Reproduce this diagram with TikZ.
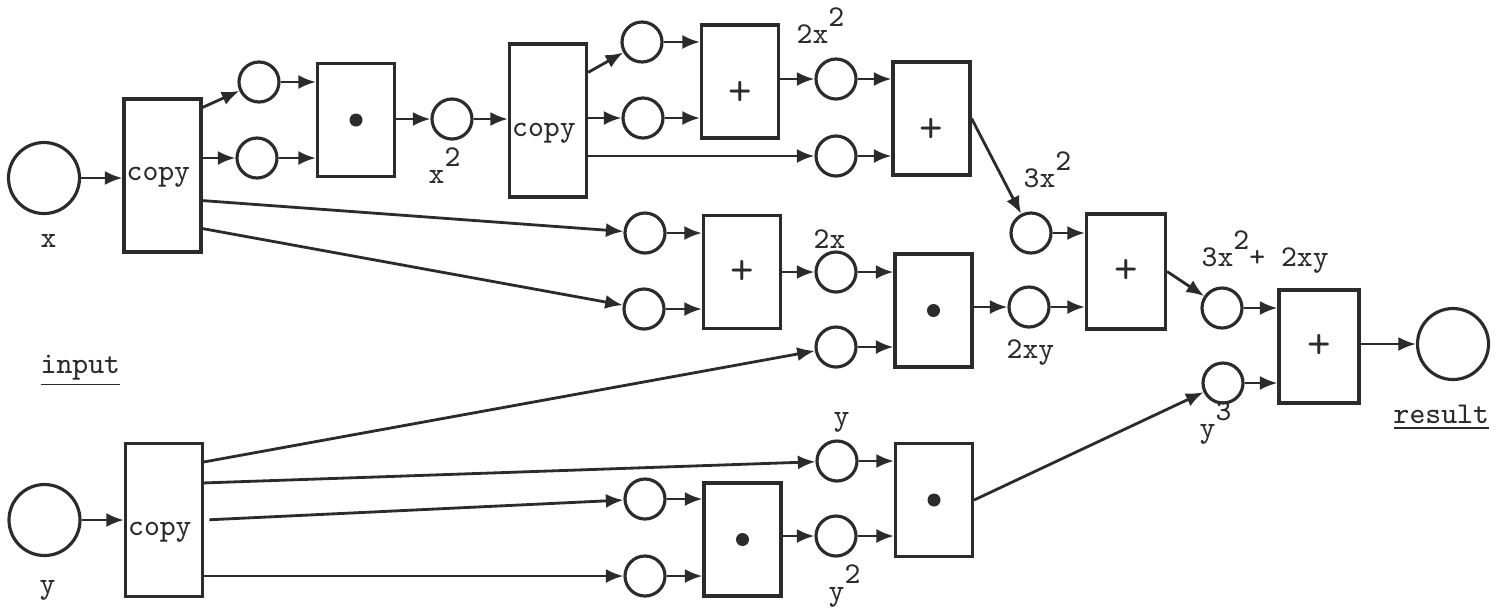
\documentclass[tikz,border=0pt]{standalone}
\usepackage{tikz}
\usetikzlibrary{arrows.meta,calc}

\definecolor{ink}{HTML}{2B2B2B}
% raised exponent, typewriter style
\newcommand{\supr}[1]{\raisebox{4.6pt}{#1}}

\begin{document}
\begin{tikzpicture}[
        % styles for places, operation boxes and arcs
        every node/.style={text=ink, font=\fontsize{8.6}{10}\selectfont\ttfamily},
        place/.style={circle, draw=ink, line width=0.9pt, minimum size=0.40cm, inner sep=0pt},
        big place/.style={place, minimum size=0.71cm},
        op box/.style={draw=ink, line width=0.9pt, minimum width=0.77cm, minimum height=1.13cm, inner sep=0pt},
        copy box/.style={op box, minimum height=1.53cm},
        sum sign/.style={font=\fontsize{13}{13}\selectfont\ttfamily},
        tag/.style={inner sep=0pt, anchor=base west},
        flow/.style={draw=ink, line width=0.8pt, -{Latex[length=5pt,width=4pt]}}
     ]
\useasboundingbox (0,0) rectangle (15.05,-6.11);

% inputs and result
\node[big place] (inx) at (0.44,-1.78) {};
\node[big place] (iny) at (0.445,-5.20) {};
\node[big place] (res) at (14.53,-3.44) {};
\node[tag] (inx-t) at (0.40,-2.47) {x};
\node[tag] (iny-t) at (0.39,-5.93) {y};
\node[tag] (input) at (0.40,-3.73) {\underline{input}};
\node[tag] (result) at (13.93,-4.23) {\underline{result}};

% operation boxes
\node[copy box] (copyx) at (1.625,-1.755) {};
\node[copy box] (copyx2) at (5.48,-1.205) {};
\node[copy box] (copyy) at (1.64,-5.20) {};
\node[tag] (copyx-t) at ([xshift=1pt,yshift=-0.045cm]copyx.west) {copy};
\node[tag] (copyx2-t) at ([xshift=1pt,yshift=-0.16cm]copyx2.west) {copy};
\node[tag] (copyy-t) at ([xshift=1pt,yshift=-0.15cm]copyy.west) {copy};

\node[op box] (mulx) at (3.56,-1.20) {};
\node[op box] (adda) at (7.40,-0.815) {};
\node[op box] (addb) at (9.315,-1.185) {};
\node[op box, sum sign] (addd) at (7.42,-2.72) {+};
\node[op box] (mulb) at (9.335,-3.105) {};
\node[op box, sum sign, minimum width=0.79cm, minimum height=1.15cm] (addc) at (11.26,-2.715) {+};
\node[op box, sum sign, minimum width=0.80cm] (adde) at (13.19,-3.465) {+};
\node[op box] (mulc) at (7.425,-5.395) {};
\node[op box] (muld) at (9.34,-5.00) {};
\node[sum sign] (adda-op) at ([yshift=-0.12cm]adda) {+};
\node[sum sign] (addb-op) at ([yshift=-0.12cm]addb) {+};
\foreach \b in {mulx,mulb,mulc,muld}
    \fill[ink] (\b) circle (0.065);

% places
\node[place] (px1) at (2.59,-0.82) {};
\node[place] (px2) at (2.57,-1.58) {};
\node[place] (sqx) at (4.52,-1.19) {};
\node[place] (pa) at (6.42,-0.42) {};
\node[place] (pb) at (6.43,-1.18) {};
\node[place] (pc) at (8.36,-1.56) {};
\node[place] (dx2) at (8.36,-0.79) {};
\node[place] (tx2) at (10.31,-2.33) {};
\node[place] (qa) at (6.45,-2.33) {};
\node[place] (qb) at (6.44,-3.09) {};
\node[place] (dx) at (8.36,-2.72) {};
\node[place] (ya) at (8.36,-3.47) {};
\node[place] (dxy) at (10.29,-3.07) {};
\node[place] (sum1) at (12.22,-3.08) {};
\node[place] (ycu) at (12.23,-3.83) {};
\node[place] (yb) at (8.37,-4.61) {};
\node[place] (yc) at (6.45,-4.99) {};
\node[place] (yd) at (6.45,-5.76) {};
\node[place] (ysq) at (8.36,-5.36) {};

% values
\node[tag] (sqx-t) at (4.28,-1.83) {x\supr{2}};
\node[tag] (dx2-t) at (7.96,-0.43) {2x\supr{2}};
\node[tag] (dx-t) at (8.13,-2.48) {2x};
\node[tag] (tx2-t) at (10.23,-1.87) {3x\supr{2}};
\node[tag] (dxy-t) at (10.06,-3.58) {2xy};
\node[tag] (sum1-t) at (12.01,-2.66) {3x\supr{2}+ 2xy};
\node[tag] (yb-t) at (8.33,-4.25) {y};
\node[tag] (ysq-t) at (8.28,-6.00) {y\supr{2}};
\node[tag] (ycu-t) at (11.99,-4.37) {y\supr{3}};

% arcs for x
\draw[flow] (inx) -- (inx -| copyx.west);
\draw[flow] ([yshift=-0.10cm]copyx.north east) -- (px1);
\draw[flow] (copyx.east |- px2) -- (px2);
\draw[flow] (px1) -- (px1 -| mulx.west);
\draw[flow] (px2) -- (px2 -| mulx.west);
\draw[flow] (mulx.east |- sqx) -- (sqx);
\draw[flow] (sqx) -- (sqx -| copyx2.west);
\draw[flow] ([yshift=-0.30cm]copyx2.north east) -- (pa);
\draw[flow] (copyx2.east |- pb) -- (pb);
\draw[flow] (copyx2.east |- pc) -- (pc);
\draw[flow] (pa) -- (pa -| adda.west);
\draw[flow] (pb) -- (pb -| adda.west);
\draw[flow] (adda.east |- dx2) -- (dx2);
\draw[flow] (dx2) -- (dx2 -| addb.west);
\draw[flow] (pc) -- (pc -| addb.west);
\draw[flow] (addb.east) -- (tx2);
\draw[flow] (tx2) -- (tx2 -| addc.west);
\draw[flow] ([yshift=0.53cm]copyx.south east) -- (qa);
\draw[flow] ([yshift=0.25cm]copyx.south east) -- (qb);
\draw[flow] (qa) -- (qa -| addd.west);
\draw[flow] (qb) -- (qb -| addd.west);
\draw[flow] (addd.east |- dx) -- (dx);
\draw[flow] (dx) -- (dx -| mulb.west);
\draw[flow] (ya) -- (ya -| mulb.west);
\draw[flow] (mulb.east |- dxy) -- (dxy);
\draw[flow] (dxy) -- (dxy -| addc.west);
\draw[flow] (addc.east) -- (sum1);
\draw[flow] (sum1) -- (sum1 -| adde.west);
\draw[flow] (ycu) -- (ycu -| adde.west);
\draw[flow] (adde.east |- res) -- (res);

% arcs for y
\draw[flow] (iny) -- (iny -| copyy.west);
\draw[flow] ([yshift=-0.20cm]copyy.north east) -- (ya);
\draw[flow] ([yshift=-0.41cm]copyy.north east) -- (yb);
\draw[flow, shorten <=1.5pt] (copyy.east) -- (yc);
\draw[flow] (copyy.east |- yd) -- (yd);
\draw[flow] (yc) -- (yc -| mulc.west);
\draw[flow] (yd) -- (yd -| mulc.west);
\draw[flow] (mulc.east |- ysq) -- (ysq);
\draw[flow] (yb) -- (yb -| muld.west);
\draw[flow] (ysq) -- (ysq -| muld.west);
\draw[flow] (muld.east) -- (ycu);
\end{tikzpicture}
\end{document}
